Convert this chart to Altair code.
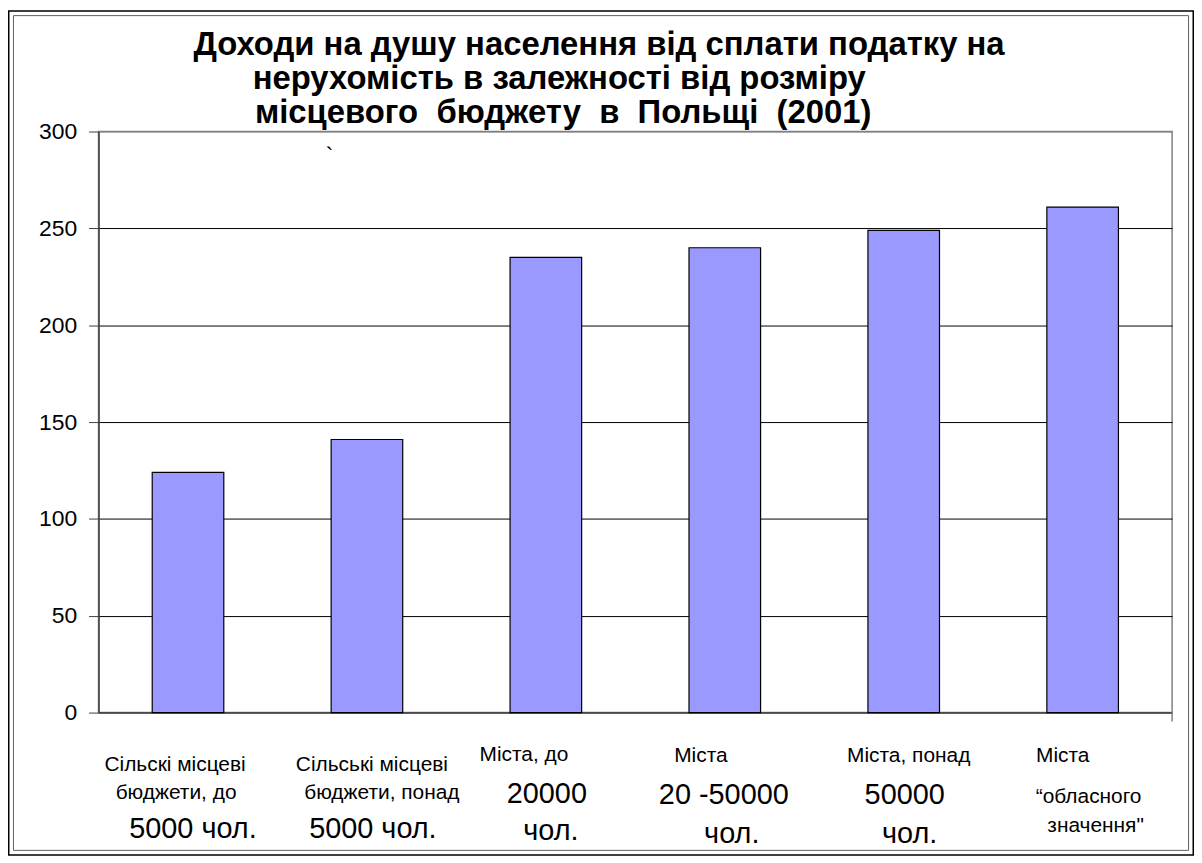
import altair as alt
import pandas as pd

# ---------------- data ----------------
CATEGORIES = [
    "Сільскі місцеві бюджети, до 5000 чол.",
    "Сільські місцеві бюджети, понад 5000 чол.",
    "Міста, до 20000 чол.",
    "Міста 20 -50000 чол.",
    "Міста, понад 50000 чол.",
    "Міста “обласного значення\"",
]
VALUES = [124, 141, 235, 240, 249, 261]
LABEL_LINES = [
    ["Сільскі місцеві", "бюджети, до", "5000 чол."],
    ["Сільські місцеві", "бюджети, понад", "5000 чол."],
    ["Міста, до", "20000", "чол."],
    ["Міста", "20 -50000", "чол."],
    ["Міста, понад", "50000", "чол."],
    ["Міста", "“обласного", "значення\""],
]
Y_TICKS = [0, 50, 100, 150, 200, 250, 300]
TITLE_LINES = [
    "Доходи на душу населення від сплати податку на",
    "нерухомість в залежності від розміру",
    "місцевого\u00a0 бюджету\u00a0 в\u00a0 Польщі\u00a0 (2001)",
]
STRAY = "`"

# ---------------- layout (styles, not data) ----------------
FONT = "Liberation Sans"
W, H = 1079, 584
PAD_L, PAD_T = 91, 122
CHART_W, CHART_H = 1192, 850
PAD_R = CHART_W - PAD_L - W
PAD_B = CHART_H - PAD_T - H
OX, OY = 8 + PAD_L, 8 + PAD_T  # page position of plot origin

S, B = 21, 29
LINE_LAYOUT = [
    [(S, -13, 767), (S, -12, 795), (B, 5, 831)],
    [(S, 5, 767), (S, 15, 795), (B, 6, 831)],
    [(S, -22, 757), (B, 1, 796), (B, 5, 833)],
    [(S, -24, 758), (B, -1, 797), (B, 7, 836)],
    [(S, 5, 758), (B, 1, 797), (B, 6, 836)],
    [(S, -20, 758), (S, 6, 799), (S, 13, 828)],
]
TITLE_POS = [(602, 43), (562, 77), (566, 111)]
TITLE_SIZE = 33

xscale = alt.Scale(domain=CATEGORIES, paddingInner=0, paddingOuter=0)
yscale = alt.Scale(domain=[0, 300], nice=False)

df = pd.DataFrame({"cat": CATEGORIES, "v": VALUES})

bars = alt.Chart(df).mark_bar(
    color="#9999FF", stroke="#000000", strokeWidth=1.2,
    width=alt.RelativeBandSize(0.4)
).encode(
    x=alt.X("cat:N", scale=xscale, sort=CATEGORIES,
            axis=alt.Axis(labels=False, title=None, bandPosition=0, tickSize=9,
                          tickColor="#404040", domainColor="#000000", domainWidth=1.5,
                          grid=False)),
    y=alt.Y("v:Q", scale=yscale,
            axis=alt.Axis(values=Y_TICKS, title=None, labelFontSize=23, labelFont=FONT,
                          labelColor="#000000", labelPadding=12, tickSize=10,
                          tickColor="#404040", domainColor="#404040", domainWidth=1.5,
                          grid=True,
                          gridColor=alt.condition("datum.value === 300",
                                                  alt.value("#808080"),
                                                  alt.value("#000000")),
                          gridWidth=1)),
)

dummy = pd.DataFrame({"d": [0]})

end_tick = alt.Chart(dummy).mark_rule(color="#808080", strokeWidth=1.5).encode(
    x=alt.value(W), y=alt.value(H), y2=alt.value(H + 9)
)

frame_outer = alt.Chart(dummy).mark_rect(
    fillOpacity=0, stroke="#000000", strokeWidth=1.5
).encode(
    x=alt.value(-PAD_L + 0.75), x2=alt.value(CHART_W - PAD_L - 0.75),
    y=alt.value(-PAD_T + 0.75), y2=alt.value(CHART_H - PAD_T - 0.75),
)
frame_inner = alt.Chart(dummy).mark_rect(
    fillOpacity=0, stroke="#606060", strokeWidth=1
).encode(
    x=alt.value(-PAD_L + 5.5), x2=alt.value(CHART_W - PAD_L - 5.5),
    y=alt.value(-PAD_T + 5.5), y2=alt.value(CHART_H - PAD_T - 5.5),
)

layers = [frame_outer, frame_inner, bars, end_tick]

for i, lines in enumerate(LABEL_LINES):
    for j, txt in enumerate(lines):
        size, dx, ypage = LINE_LAYOUT[i][j]
        d = pd.DataFrame({"cat": [CATEGORIES[i]], "t": [txt]})
        layers.append(
            alt.Chart(d).mark_text(
                font=FONT, fontSize=size, dx=dx, align="center",
                baseline="middle", color="#000000"
            ).encode(
                x=alt.X("cat:N", scale=xscale, sort=CATEGORIES, axis=None),
                y=alt.value(ypage - OY),
                text="t:N",
            )
        )

for k, line in enumerate(TITLE_LINES):
    cx, cy = TITLE_POS[k]
    d = pd.DataFrame({"t": [line]})
    layers.append(
        alt.Chart(d).mark_text(
            font=FONT, fontSize=TITLE_SIZE, fontWeight="bold", align="center",
            baseline="middle", color="#000000"
        ).encode(x=alt.value(cx - OX), y=alt.value(cy - OY), text="t:N")
    )

layers.append(
    alt.Chart(pd.DataFrame({"t": [STRAY]})).mark_text(
        font=FONT, fontSize=24, align="center", baseline="middle", color="#000000"
    ).encode(x=alt.value(331 - OX), y=alt.value(156 - OY), text="t:N")
)

chart = alt.layer(*layers).properties(
    width=W, height=H,
    autosize=alt.AutoSizeParams(type="none"),
    padding={"left": PAD_L, "top": PAD_T, "right": PAD_R, "bottom": PAD_B},
    background="#FFFFFF",
).configure_view(
    stroke="#808080", strokeWidth=1.5
)

chart.save("out.html", embed_options={"renderer": "svg", "actions": False})
